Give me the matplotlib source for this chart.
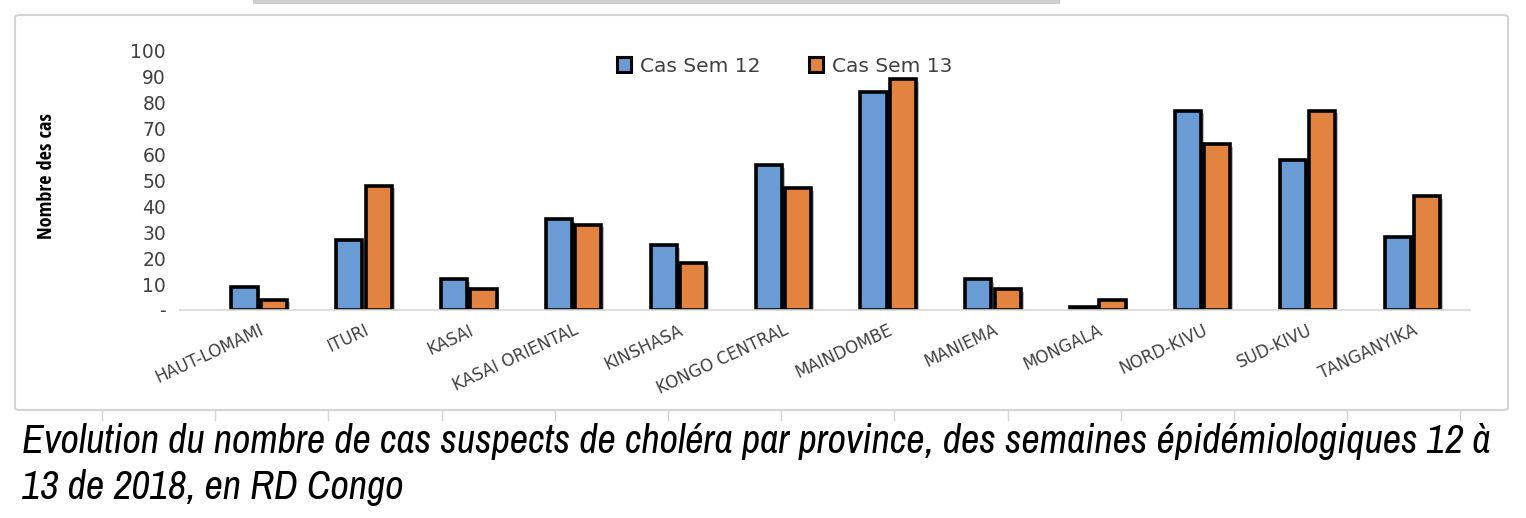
import numpy as np
import matplotlib
matplotlib.use("Agg")
from matplotlib import pyplot as plt
from matplotlib import patheffects as pe
from matplotlib.patches import FancyBboxPatch, Patch
from matplotlib import font_manager as fm

provinces = ["HAUT-LOMAMI", "ITURI", "KASAI", "KASAI ORIENTAL", "KINSHASA",
             "KONGO CENTRAL", "MAINDOMBE", "MANIEMA", "MONGALA", "NORD-KIVU",
             "SUD-KIVU", "TANGANYIKA"]
cas_sem12 = [9, 27, 12, 35, 25, 56, 84, 12, 1, 77, 58, 28]
cas_sem13 = [4, 48, 8, 33, 18, 47, 89, 8, 4, 64, 77, 44]
yticks = [0, 10, 20, 30, 40, 50, 60, 70, 80, 90, 100]
ytick_labels = ["-", "10", "20", "30", "40", "50", "60", "70", "80", "90", "100"]
caption1 = "Evolution du nombre de cas suspects de choléra par province, des semaines épidémiologiques 12 à"
caption2 = "13 de 2018, en RD Congo"

blue = "#6a9bd4"
orange = "#e2843f"

# pick a narrow family (with an italic face for the caption)
faces = {(f.name, f.style) for f in fm.fontManager.ttflist}
fams = {f.name for f in fm.fontManager.ttflist}
narrow_cands = ["Liberation Sans Narrow", "Arimo Narrow", "Archivo Narrow", "Roboto Condensed",
                "Encode Sans Condensed", "IBM Plex Sans Condensed", "Fira Sans Condensed",
                "Open Sans Condensed", "Liberation Sans"]
cap_font = next(n for n in narrow_cands if (n, "italic") in faces or n == "Liberation Sans")
ylab_font = next(n for n in ["Open Sans Condensed", "Roboto Condensed", "Fira Sans Condensed",
                             "Archivo Narrow", "DejaVu Sans"] if n in fams)
tick_font = "DejaVu Sans"

fig = plt.figure(figsize=(15.26, 5.18), dpi=100)

# chart frame
frame = FancyBboxPatch((15 / 1526, 1 - 410 / 518), 1493 / 1526, 395 / 518,
                       boxstyle="round,pad=0,rounding_size=0.004",
                       transform=fig.transFigure, fill=False,
                       edgecolor="#d4d4d4", linewidth=1.5)
fig.patches.append(frame)
for k in range(13):
    xx = (102 + 113.2 * k) / 1526
    fig.add_artist(plt.Line2D([xx, xx], [1 - 410 / 518, 1 - 420 / 518],
                              transform=fig.transFigure, color="#d4d4d4", lw=1))
fig.add_artist(plt.Line2D([255 / 1526, 1058 / 1526], [1 - 2 / 518, 1 - 2 / 518],
                          transform=fig.transFigure, color="#cfcfcf", lw=3))

ax = fig.add_axes([180 / 1526, 1 - 310 / 518, 1290 / 1526, 259 / 518])

x = np.arange(len(provinces))
w = 0.25
shadow = [pe.SimplePatchShadow(offset=(2, -2), shadow_rgbFace="#666666", alpha=0.45), pe.Normal()]
b1 = ax.bar(x - 0.14, cas_sem12, w, color=blue, edgecolor="black", linewidth=2.6)
b2 = ax.bar(x + 0.14, cas_sem13, w, color=orange, edgecolor="black", linewidth=2.6)
for r in list(b1) + list(b2):
    r.set_path_effects(shadow)

ax.set_xlim(-0.755, 11.55)
ax.set_ylim(0, 100)
ax.set_yticks(yticks)
ax.set_yticklabels(ytick_labels, fontsize=13.5, color="#404040", family=tick_font)
ax.tick_params(axis="y", length=0, pad=10)
ax.set_xticks(x)
ax.set_xticklabels(provinces, rotation=25, ha="right", rotation_mode="anchor",
                   fontsize=12, color="#404040", family=tick_font, fontstretch="normal")
ax.tick_params(axis="x", length=0, pad=8)
for s in ["top", "right", "left"]:
    ax.spines[s].set_visible(False)
ax.spines["bottom"].set_color("#d9d9d9")
ax.spines["bottom"].set_linewidth(1.2)

fig.text(47 / 1526, 1 - 176 / 518, "Nombre des cas", rotation=90, ha="center", va="center",
         fontsize=14.5, fontweight="bold", family=ylab_font, color="black")

handles = [Patch(facecolor=blue, edgecolor="black", linewidth=2.2),
           Patch(facecolor=orange, edgecolor="black", linewidth=2.2)]
fig.legend(handles, ["Cas Sem 12", "Cas Sem 13"], loc="center",
           bbox_to_anchor=(785 / 1526, 1 - 66 / 518), ncol=2, frameon=False,
           prop={"family": tick_font, "size": 14.5}, handlelength=0.7, handleheight=0.7,
           handletextpad=0.45, columnspacing=2.4, labelcolor="#404040")

t1 = fig.text(22 / 1526, 1 - 442 / 518, caption1, fontsize=23, style="italic",
              family=cap_font, ha="left", va="center")
t2 = fig.text(22 / 1526, 1 - 488 / 518, caption2, fontsize=23, style="italic",
              family=cap_font, ha="left", va="center")
# fit first caption line to the reference width
r = fig.canvas.get_renderer()
wpx = t1.get_window_extent(r).width
size = min(30, 23 * 1475 / wpx)
t1.set_fontsize(size)
t2.set_fontsize(size)

fig.savefig("out.png", dpi=100)
